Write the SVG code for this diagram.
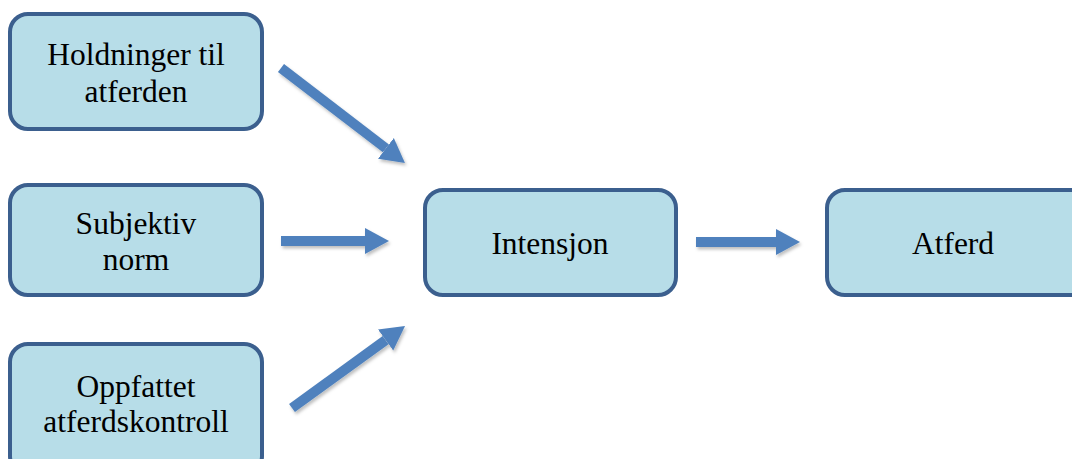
<svg xmlns="http://www.w3.org/2000/svg" width="1072" height="459" viewBox="0 0 1072 459">
  <defs>
    <style>
      .box { fill: #b7dde8; stroke: #3b5f8e; stroke-width: 4; }
      .lbl { font-family: "Liberation Serif", "Times New Roman", serif; font-size: 31.5px; fill: #000; text-anchor: middle; }
      .arr { stroke: #4f81bd; stroke-width: 10; fill: none; marker-end: url(#head); }
    </style>
    <marker id="head" markerUnits="userSpaceOnUse" markerWidth="25" markerHeight="28" refX="0" refY="14" orient="auto" viewBox="0 0 25 28">
      <path d="M0,1 L24,14 L0,27 z" fill="#4f81bd"/>
    </marker>
    <filter id="sh" x="-10%" y="-10%" width="130%" height="140%">
      <feDropShadow dx="1.5" dy="2.5" stdDeviation="1.8" flood-color="#000" flood-opacity="0.25"/>
    </filter>
  </defs>
  <rect width="1072" height="459" fill="#ffffff"/>

  <g id="connectors" filter="url(#sh)">
    <line class="arr" x1="281" y1="68" x2="385.9" y2="148.4"/>
    <line class="arr" x1="281" y1="241" x2="365" y2="241"/>
    <line class="arr" x1="292" y1="408" x2="385.6" y2="340.1"/>
    <line class="arr" x1="696" y1="242" x2="776" y2="242"/>
  </g>

  <g id="node-holdninger">
    <rect class="box" x="10" y="14" width="252" height="115" rx="18"/>
    <text class="lbl" x="136" y="65">Holdninger til</text>
    <text class="lbl" x="136" y="102">atferden</text>
  </g>

  <g id="node-subjektiv">
    <rect class="box" x="10" y="185" width="252" height="110" rx="18"/>
    <text class="lbl" x="136" y="234">Subjektiv</text>
    <text class="lbl" x="136" y="270">norm</text>
  </g>

  <g id="node-oppfattet">
    <rect class="box" x="10" y="344" width="252" height="130" rx="18"/>
    <text class="lbl" x="136" y="397">Oppfattet</text>
    <text class="lbl" x="136" y="432">atferdskontroll</text>
  </g>

  <g id="node-intensjon">
    <rect class="box" x="425" y="190" width="251" height="105" rx="18"/>
    <text class="lbl" x="550" y="254">Intensjon</text>
  </g>

  <g id="node-atferd">
    <rect class="box" x="827" y="190" width="300" height="105" rx="18"/>
    <text class="lbl" x="953" y="254">Atferd</text>
  </g>
</svg>
